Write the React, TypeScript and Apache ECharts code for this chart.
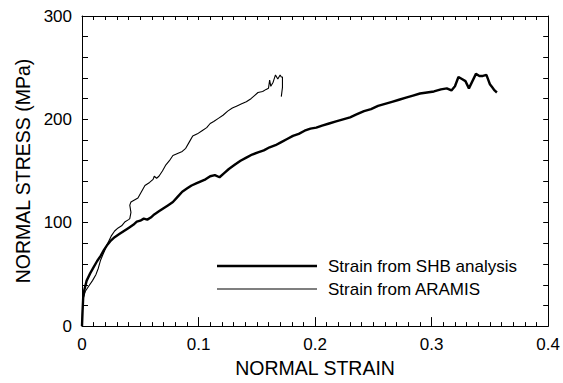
import React, { useEffect, useRef } from "react";
import * as echarts from "echarts";

const xTicks = [0, 0.1, 0.2, 0.3, 0.4];
const yTicks = [0, 100, 200, 300];

const seriesNames = ["Strain from SHB analysis", "Strain from ARAMIS"];

const shbStrain = [
  0, 0.0005, 0.001, 0.002, 0.004, 0.007, 0.01, 0.013, 0.016, 0.019, 0.022, 0.025, 0.028, 0.032, 0.036, 0.04,
  0.044, 0.047, 0.05, 0.053, 0.056, 0.059, 0.062, 0.066, 0.07, 0.074, 0.078, 0.082, 0.086, 0.09, 0.094, 0.098,
  0.102, 0.106, 0.11, 0.114, 0.118, 0.122, 0.126, 0.131, 0.136, 0.141, 0.146, 0.151, 0.156, 0.161, 0.166, 0.171,
  0.176, 0.181, 0.186, 0.191, 0.196, 0.201, 0.206, 0.212, 0.218, 0.224, 0.23, 0.236, 0.242, 0.248, 0.254, 0.26,
  0.266, 0.272, 0.278, 0.284, 0.29, 0.296, 0.302, 0.308, 0.313, 0.317, 0.32, 0.323, 0.326, 0.329, 0.332, 0.335,
  0.338, 0.341, 0.344, 0.347, 0.35, 0.352, 0.354, 0.356,
];
const shbStress = [
  0, 15, 27, 35, 44, 51, 57, 63, 68, 74, 79, 83, 86, 89, 92, 95,
  98, 101, 102, 104, 103, 105, 108, 111, 114, 117, 120, 125, 130, 133, 136, 138,
  140, 142, 145, 146, 144, 148, 152, 156, 160, 163, 166, 168, 170, 173, 175, 178,
  181, 184, 186, 189, 191, 192, 194, 196, 198, 200, 202, 205, 208, 210, 213, 215,
  217, 219, 221, 223, 225, 226, 227, 229, 230, 228, 232, 241, 239, 237, 230, 237,
  244, 242, 242, 243, 234, 231, 228, 226,
];

const aramisStrain = [
  0, 0.0005, 0.001, 0.003, 0.006, 0.009, 0.012, 0.014, 0.016, 0.019, 0.022, 0.025, 0.028, 0.031, 0.034, 0.037,
  0.04, 0.041, 0.042, 0.041, 0.042, 0.045, 0.048, 0.051, 0.054, 0.058, 0.061, 0.062, 0.064, 0.066, 0.069, 0.072,
  0.075, 0.078, 0.082, 0.086, 0.089, 0.092, 0.095, 0.099, 0.103, 0.107, 0.11, 0.113, 0.117, 0.121, 0.125, 0.129,
  0.133, 0.137, 0.141, 0.145, 0.148, 0.151, 0.155, 0.158, 0.16, 0.161, 0.162, 0.164, 0.166, 0.168, 0.17, 0.171,
  0.172, 0.172, 0.171,
];
const aramisStress = [
  0, 18, 27, 34, 39, 44, 50, 56, 64, 72, 80, 87, 92, 95, 97, 101,
  103, 104, 110, 117, 120, 122, 124, 130, 136, 139, 142, 145, 143, 145, 150, 156,
  160, 165, 167, 169, 172, 178, 184, 186, 189, 192, 196, 198, 201, 204, 208, 211,
  213, 215, 217, 220, 223, 226, 227, 229, 230, 238, 232, 236, 243, 239, 243, 241,
  241, 231, 222,
];

const FONT = "'Liberation Sans', Arial, Helvetica, sans-serif";

export default function App() {
  const ref = useRef<HTMLDivElement>(null);
  useEffect(() => {
    if (!ref.current) return;
    const chart = echarts.init(ref.current, undefined, { renderer: "svg" });
    const shbData = shbStrain.map((x, i) => [x, shbStress[i]]);
    const aramisData = aramisStrain.map((x, i) => [x, aramisStress[i]]);
    const xMin = xTicks[0];
    const xMax = xTicks[xTicks.length - 1];
    const xInt = xTicks[1] - xTicks[0];
    const yMin = yTicks[0];
    const yMax = yTicks[yTicks.length - 1];
    const yInt = yTicks[1] - yTicks[0];
    const axisLine = { show: true, onZero: false, lineStyle: { color: "#000", width: 1 } };
    chart.setOption({
      animation: false,
      backgroundColor: "#fff",
      textStyle: { fontFamily: FONT },
      grid: { left: 82, right: 13, top: 16, bottom: 55, containLabel: false },
      xAxis: [
        {
          type: "value",
          position: "bottom",
          min: xMin,
          max: xMax,
          interval: xInt,
          axisLine,
          axisTick: { show: true, inside: true, length: 9, lineStyle: { color: "#000" } },
          minorTick: { show: true, splitNumber: 10, length: 4, lineStyle: { color: "#000" } },
          splitLine: { show: false },
          axisLabel: {
            color: "#000",
            fontSize: 17,
            fontFamily: FONT,
            margin: 10,
            formatter: (v: number) => (v === 0 ? "0" : String(Number(v.toFixed(1)))),
          },
          name: "NORMAL STRAIN",
          nameLocation: "middle",
          nameGap: 30,
          nameTextStyle: { color: "#000", fontSize: 19.5, fontFamily: FONT },
        },
        {
          type: "value",
          position: "top",
          min: xMin,
          max: xMax,
          interval: xInt,
          axisLine,
          axisTick: { show: true, inside: true, length: 4, lineStyle: { color: "#000" } },
          minorTick: { show: true, splitNumber: 10, length: 4, lineStyle: { color: "#000" } },
          splitLine: { show: false },
          axisLabel: { show: false },
        },
      ],
      yAxis: [
        {
          type: "value",
          position: "left",
          min: yMin,
          max: yMax,
          interval: yInt,
          axisLine,
          axisTick: { show: true, inside: true, length: 6, lineStyle: { color: "#000" } },
          minorTick: { show: true, splitNumber: 5, length: 6, lineStyle: { color: "#000" } },
          splitLine: { show: false },
          axisLabel: { color: "#000", fontSize: 17, fontFamily: FONT, margin: 10 },
          name: "NORMAL STRESS (MPa)",
          nameLocation: "middle",
          nameGap: 45,
          nameTextStyle: { color: "#000", fontSize: 19.5, fontFamily: FONT },
        },
        {
          type: "value",
          position: "right",
          min: yMin,
          max: yMax,
          interval: yInt,
          axisLine,
          axisTick: { show: true, inside: true, length: 5, lineStyle: { color: "#000" } },
          minorTick: { show: true, splitNumber: 5, length: 5, lineStyle: { color: "#000" } },
          splitLine: { show: false },
          axisLabel: { show: false },
        },
      ],
      legend: [
        {
          data: [seriesNames[0]],
          left: 217,
          top: 257,
          padding: 0,
          icon: "rect",
          itemWidth: 100,
          itemHeight: 2.5,
          textStyle: { color: "#000", fontSize: 17, fontFamily: FONT, lineHeight: 18, padding: [0, 0, 0, 6] },
        },
        {
          data: [seriesNames[1]],
          left: 217,
          top: 280,
          padding: 0,
          icon: "rect",
          itemWidth: 100,
          itemHeight: 1,
          textStyle: { color: "#000", fontSize: 17, fontFamily: FONT, lineHeight: 18, padding: [0, 0, 0, 6] },
        },
      ],
      series: [
        {
          name: seriesNames[0],
          type: "line",
          xAxisIndex: 0,
          yAxisIndex: 0,
          data: shbData,
          showSymbol: false,
          symbol: "none",
          color: "#000",
          lineStyle: { color: "#000", width: 2.4 },
        },
        {
          name: seriesNames[1],
          type: "line",
          xAxisIndex: 0,
          yAxisIndex: 0,
          data: aramisData,
          showSymbol: false,
          symbol: "none",
          color: "#000",
          lineStyle: { color: "#000", width: 1.1 },
        },
      ],
    });
    return () => chart.dispose();
  }, []);
  return <div ref={ref} style={{ width: 563, height: 383, position: "absolute", left: 0, top: 0 }} />;
}
